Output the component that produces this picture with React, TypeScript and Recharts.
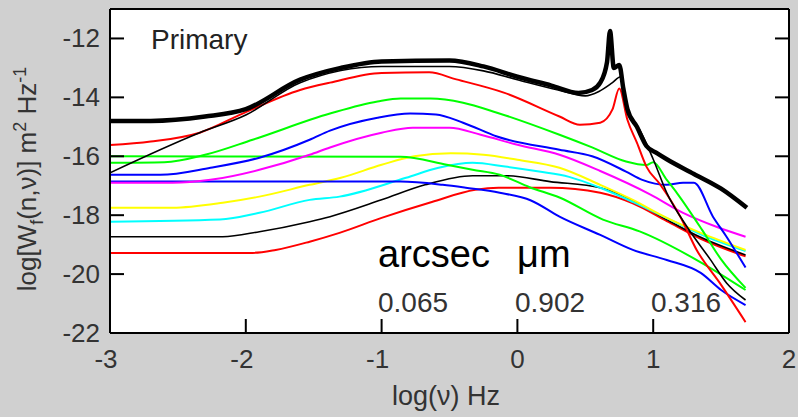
import { LineChart, Line, XAxis, YAxis, CartesianGrid } from "recharts";

type Pt = [number, number];

const xTicks = [-3, -2, -1, 0, 1, 2];
const yTicks = [-22, -20, -18, -16, -14, -12];

// total spectrum (thick) with the two resonance peaks near log(v) = 0.7
const total: Pt[] = [
  [-3, -14.8], [-2.7, -14.8], [-2.3, -14.65], [-2.0, -14.4], [-1.6, -13.4], [-1.3, -13.0],
  [-1.0, -12.78], [-0.5, -12.75], [-0.25, -12.95], [0, -13.3], [0.25, -13.6], [0.45, -13.85],
  [0.55, -13.75], [0.61, -13.5], [0.66, -12.8], [0.682, -11.75], [0.71, -13.0], [0.75, -12.9],
  [0.78, -13.7], [0.81, -14.4], [0.88, -15.0], [0.95, -15.65], [1.03, -15.9], [1.1, -16.1],
  [1.3, -16.6], [1.5, -17.1], [1.69, -17.75],
];
const black1: Pt[] = [
  [-3, -16.56], [-2.34, -15.2], [-2, -14.6], [-1.6, -13.5], [-1.0, -12.95], [-0.5, -12.95],
  [-0.25, -13.1], [0, -13.4], [0.3, -13.75], [0.5, -13.95], [0.6, -13.8], [0.7, -13.5],
  [0.76, -13.3], [0.81, -14.5], [0.9, -15.1], [1.0, -16.1], [1.1, -17.24], [1.25, -18.4],
  [1.42, -19.5], [1.54, -20.3], [1.68, -20.88],
];
const red1: Pt[] = [
  [-3, -15.62], [-2.7, -15.5], [-2.34, -15.2], [-2, -14.5], [-1.6, -13.75], [-1.38, -13.5],
  [-1.0, -13.17], [-0.65, -13.15], [-0.45, -13.39], [-0.1, -13.84], [0.31, -14.65],
  [0.46, -14.93], [0.61, -14.86], [0.7, -14.41], [0.75, -13.7], [0.81, -14.76], [0.88, -15.54],
  [0.95, -16.35], [1.05, -16.95], [1.2, -18.05], [1.32, -19.18], [1.49, -20.3], [1.68, -21.63],
];
const green1: Pt[] = [
  [-3, -16.22], [-2.6, -16.2], [-2.3, -15.95], [-1.95, -15.44], [-1.38, -14.55], [-1.03, -14.14],
  [-0.86, -14.04], [-0.64, -14.04], [-0.4, -14.18], [-0.15, -14.52], [0.31, -15.27],
  [0.55, -15.7], [0.8, -16.18], [0.95, -16.3], [1.0, -16.2], [1.1, -16.8], [1.175, -17.25],
  [1.36, -18.5], [1.5, -19.5], [1.68, -20.47],
];
const blue1: Pt[] = [
  [-3, -16.63], [-2.63, -16.63], [-2.26, -16.39], [-1.9, -16.05], [-1.53, -15.44], [-1.38, -15.13],
  [-1.03, -14.69], [-0.79, -14.55], [-0.6, -14.58], [-0.4, -14.86], [-0.15, -15.33], [0.31, -15.78],
  [0.55, -16.0], [0.8, -16.52], [0.92, -16.8], [1.1, -16.97], [1.22, -16.9], [1.3, -16.9],
  [1.44, -18.05], [1.54, -18.73], [1.68, -19.78],
];
const magenta: Pt[] = [
  [-3, -16.9], [-2.54, -16.9], [-2.26, -16.8], [-1.9, -16.46], [-1.53, -15.95], [-1.38, -15.7],
  [-1.0, -15.2], [-0.77, -15.03], [-0.5, -15.03], [-0.27, -15.27], [0, -15.61], [0.31, -15.95],
  [0.61, -16.5], [0.98, -17.3], [1.22, -17.92], [1.47, -18.4], [1.68, -18.73],
];
const green2: Pt[] = [
  [-3, -16.0], [-0.86, -16.02], [-0.52, -16.29], [-0.33, -16.46], [-0.13, -16.63], [0.09, -17.05],
  [0.31, -17.4], [0.63, -18.15], [0.9, -18.55], [1.35, -19.6], [1.68, -20.54],
];
const blue2: Pt[] = [
  [-3, -16.86], [-0.86, -16.86], [-0.55, -16.97], [-0.38, -17.07], [-0.13, -17.24], [0.1, -17.5],
  [0.31, -18.05], [0.61, -18.67], [0.85, -19.18], [1.1, -19.52], [1.35, -19.96], [1.5, -20.54],
  [1.68, -21.05],
];
const yellow: Pt[] = [
  [-3, -17.75], [-2.54, -17.75], [-2.17, -17.58], [-1.9, -17.37], [-1.53, -16.97], [-1.3, -16.73],
  [-1.0, -16.29], [-0.76, -16.0], [-0.49, -15.9], [-0.25, -15.95], [0, -16.12], [0.31, -16.39],
  [0.61, -16.97], [0.85, -17.48], [1.1, -18.09], [1.35, -18.6], [1.68, -19.18],
];
const cyan: Pt[] = [
  [-3, -18.22], [-2.19, -18.15], [-1.9, -17.92], [-1.53, -17.48], [-1.31, -17.37], [-0.82, -16.73],
  [-0.58, -16.39], [-0.33, -16.22], [-0.09, -16.35], [0.16, -16.52], [0.38, -16.7], [0.61, -17.07],
  [0.85, -17.55], [1.1, -18.1], [1.35, -18.65], [1.68, -19.22],
];
const black2: Pt[] = [
  [-3, -18.73], [-2.17, -18.73], [-1.9, -18.56], [-1.53, -18.22], [-1.38, -18.05], [-1.0, -17.48],
  [-0.68, -16.97], [-0.33, -16.66], [-0.09, -16.66], [0.24, -16.86], [0.61, -17.07], [0.85, -17.5],
  [1.1, -18.15], [1.35, -18.75], [1.68, -19.35],
];
const red2: Pt[] = [
  [-3, -19.28], [-1.95, -19.28], [-1.78, -19.18], [-1.53, -18.9], [-1.31, -18.6], [-1.0, -18.09],
  [-0.63, -17.55], [-0.31, -17.14], [-0.14, -17.07], [0.24, -17.07], [0.61, -17.24], [0.85, -17.6],
  [1.1, -18.2], [1.35, -18.8], [1.68, -19.4],
];

const series: { pts: Pt[]; color: string; width: number }[] = [
  { pts: red2, color: "#ff0000", width: 2 },
  { pts: black2, color: "#000000", width: 1.6 },
  { pts: cyan, color: "#00ffff", width: 2 },
  { pts: yellow, color: "#ffff00", width: 2 },
  { pts: blue2, color: "#0000ff", width: 2 },
  { pts: green2, color: "#00ff00", width: 2 },
  { pts: magenta, color: "#ff00ff", width: 2 },
  { pts: blue1, color: "#0000ff", width: 2 },
  { pts: green1, color: "#00ff00", width: 2 },
  { pts: red1, color: "#ff0000", width: 2 },
  { pts: black1, color: "#000000", width: 1.6 },
  { pts: total, color: "#000000", width: 4.5 },
];

const FONT = "'Liberation Sans', Arial, sans-serif";
const TICK_LEN = 14;

const LeftTick = ({ x, y, payload }: any) => (
  <g>
    <line x1={x} y1={y} x2={x + TICK_LEN} y2={y} stroke="#000" strokeWidth={2} />
    <text x={x - 10} y={y + 9} textAnchor="end" fontSize={26} fontFamily={FONT} fill="#333">
      {payload.value}
    </text>
  </g>
);
const RightTick = ({ x, y }: any) => (
  <line x1={x} y1={y} x2={x - TICK_LEN} y2={y} stroke="#000" strokeWidth={2} />
);
const BottomTick = ({ x, y, payload }: any) => (
  <g>
    <line x1={x} y1={y} x2={x} y2={y - TICK_LEN} stroke="#000" strokeWidth={2} />
    <text
      x={payload.value < 0 ? x - 4 : x}
      y={y + 35}
      textAnchor="middle"
      fontSize={26}
      fontFamily={FONT}
      fill="#333"
    >
      {payload.value}
    </text>
  </g>
);
const TopTick = ({ x, y }: any) => (
  <line x1={x} y1={y} x2={x} y2={y + TICK_LEN} stroke="#000" strokeWidth={2} />
);

export default function App() {
  return (
    <div
      style={{
        position: "absolute",
        left: 0,
        top: 0,
        width: 798,
        height: 417,
        background: "#d0d0d0",
      }}
    >
      <LineChart width={798} height={417} margin={{ top: 0, right: 0, bottom: 0, left: 0 }}>
        <CartesianGrid fill="#ffffff" horizontal={false} vertical={false} />
        <XAxis
          type="number"
          dataKey="x"
          domain={[-3, 2]}
          ticks={xTicks}
          height={84}
          allowDataOverflow
          tickSize={0}
          tickMargin={0}
          tickLine={false}
          axisLine={{ stroke: "#000", strokeWidth: 2 }}
          tick={<BottomTick />}
        />
        <XAxis
          xAxisId="t"
          orientation="top"
          type="number"
          domain={[-3, 2]}
          ticks={xTicks}
          height={9}
          allowDataOverflow
          tickSize={0}
          tickMargin={0}
          tickLine={false}
          axisLine={{ stroke: "#000", strokeWidth: 2 }}
          tick={<TopTick />}
        />
        <YAxis
          type="number"
          dataKey="y"
          domain={[-22, -11]}
          ticks={yTicks}
          width={110}
          allowDataOverflow
          tickSize={0}
          tickMargin={0}
          tickLine={false}
          axisLine={{ stroke: "#000", strokeWidth: 2 }}
          tick={<LeftTick />}
        />
        <YAxis
          yAxisId="r"
          orientation="right"
          type="number"
          domain={[-22, -11]}
          ticks={yTicks}
          width={9}
          allowDataOverflow
          tickSize={0}
          tickMargin={0}
          tickLine={false}
          axisLine={{ stroke: "#000", strokeWidth: 2 }}
          tick={<RightTick />}
        />
        {series.map((s, i) => (
          <Line
            key={i}
            data={s.pts.map(([x, y]) => ({ x, y }))}
            dataKey="y"
            type="monotone"
            stroke={s.color}
            strokeWidth={s.width}
            strokeLinejoin="round"
            dot={false}
            activeDot={false}
            isAnimationActive={false}
          />
        ))}
      </LineChart>
      <svg
        width={798}
        height={417}
        style={{ position: "absolute", left: 0, top: 0, pointerEvents: "none" }}
        fontFamily={FONT}
      >
        <text x={151} y={49} fontSize={28} fill="#222">
          Primary
        </text>
        <text x={378} y={267} fontSize={38} fill="#000">
          arcsec
        </text>
        <text x={517} y={267} fontSize={38} fill="#000">
          μm
        </text>
        <text x={378} y={312} fontSize={28} fill="#333">
          0.065
        </text>
        <text x={515} y={312} fontSize={28} fill="#333">
          0.902
        </text>
        <text x={651} y={312} fontSize={28} fill="#333">
          0.316
        </text>
        <text x={446} y={405} fontSize={27} fill="#333" textAnchor="middle">
          log(ν) Hz
        </text>
        <text
          transform="translate(36,179) rotate(-90)"
          fontSize={26}
          fill="#333"
          textAnchor="middle"
        >
          log[W
          <tspan fontSize={18} dy={7}>f</tspan>
          <tspan dy={-7}>(n,ν)] m</tspan>
          <tspan fontSize={18} dy={-10}>2</tspan>
          <tspan dy={10}> Hz</tspan>
          <tspan fontSize={18} dy={-10}>-1</tspan>
        </text>
      </svg>
    </div>
  );
}
